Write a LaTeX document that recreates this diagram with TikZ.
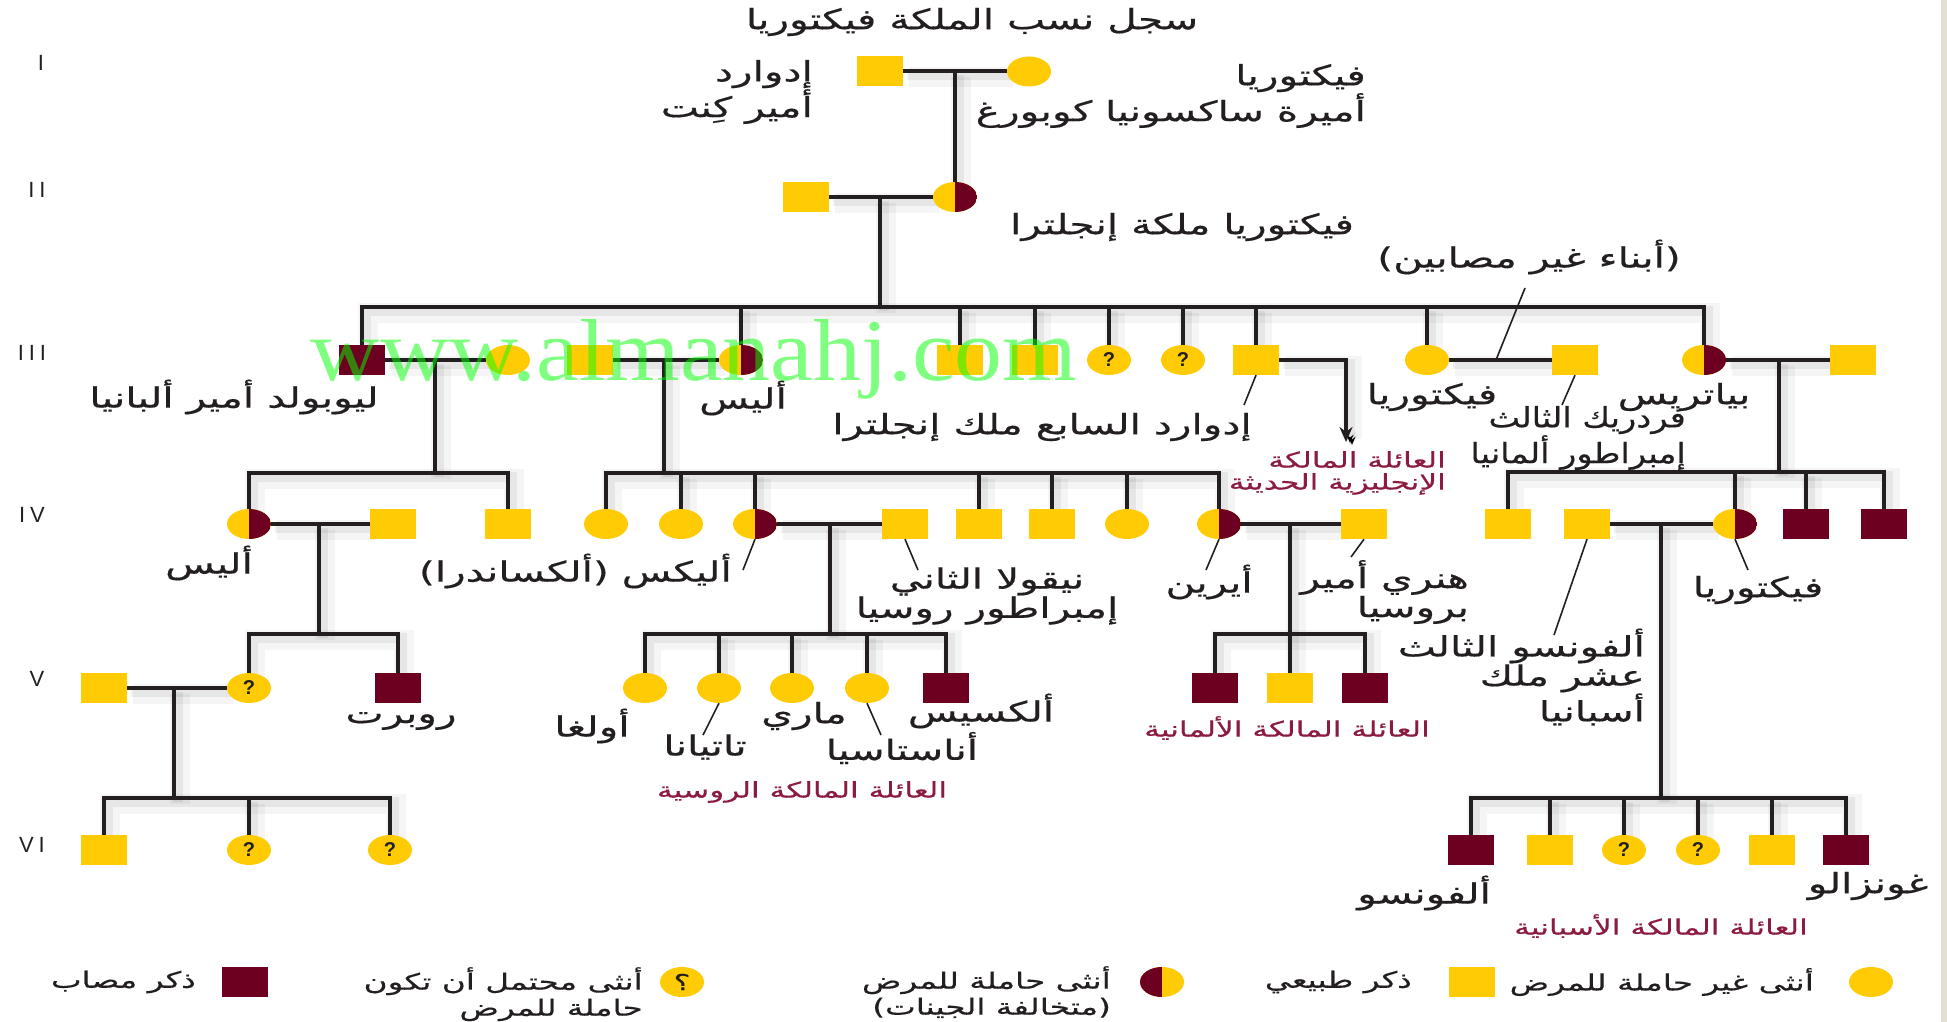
\documentclass[tikz,border=0pt]{standalone}
\usepackage{fontspec}
\usetikzlibrary{shapes.geometric,arrows.meta,backgrounds}
\TeXXeTstate=1
\newfontfamily\arfont[Script=Arabic,FakeStretch=1.45,FakeBold=0.4]{DejaVu Sans}
\newfontfamily\arnarrow[Script=Arabic,FakeStretch=1.2,FakeBold=0.4]{DejaVu Sans}
\newfontfamily\latfont{Liberation Sans}
\newfontfamily\numfont[LetterSpace=22]{Liberation Sans}
\newfontfamily\wmfont[FakeStretch=1.09]{Liberation Serif}
\newcommand\artx[1]{\beginR#1\endR}
\definecolor{pedyel}{HTML}{FFCB05}
\definecolor{pedred}{HTML}{6D0020}
\definecolor{pedgrp}{HTML}{8C1C3F}
\definecolor{pedtxt}{HTML}{231F20}
\definecolor{pedwm}{HTML}{00FF00}
\definecolor{pededge}{HTML}{E4DFD6}
\tikzset{
  msq/.style={rectangle, fill=pedyel, minimum width=46pt, minimum height=30pt, inner sep=0pt},
  asq/.style={msq, fill=pedred},
  fcir/.style={ellipse, fill=pedyel, minimum width=44pt, minimum height=30pt, inner sep=0pt},
  ccir/.style={fcir, path picture={\fill[pedred] (path picture bounding box.north) rectangle (path picture bounding box.south east);}},
  ccirl/.style={fcir, path picture={\fill[pedred] (path picture bounding box.north) rectangle (path picture bounding box.south west);}},
  qcir/.style={fcir, font=\latfont\bfseries\fontsize{20}{20}\selectfont, text=pedtxt},
  conn/.style={draw=pedtxt, line width=4pt,
    preaction={draw=black, draw opacity=0.04, line width=20pt, transform canvas={shift={(6,6)}}},
    preaction={draw=black, draw opacity=0.06, line width=10pt, transform canvas={shift={(4,4)}}}},
  lead/.style={draw=pedtxt, line width=1.6pt},
  lbl/.style={font=\arfont\fontsize{28}{28}\selectfont, text=pedtxt, inner sep=0pt},
  lgd/.style={font=\arfont\fontsize{22.5}{26}\selectfont, text=pedtxt, inner sep=0pt},
  grp/.style={font=\arfont\fontsize{21.5}{22}\selectfont, text=pedgrp, inner sep=0pt},
  gen/.style={font=\numfont\fontsize{22}{22}\selectfont, text=pedtxt, inner sep=0pt},
}
\begin{document}
\begin{tikzpicture}[x=1pt,y=-1pt]
\useasboundingbox (0,0) rectangle (1947,1022);
\begin{scope}[on background layer]
  \fill[white] (0,0) rectangle (1947,1022);
  \fill[pededge] (1941,0) rectangle (1947,1022);
\end{scope}

% generation numerals
\node[gen] (gI)   at (41,63)  {I};
\node[gen] (gII)  at (37,190) {II};
\node[gen] (gIII) at (32,353) {III};
\node[gen] (gIV)  at (32,515) {IV};
\node[gen] (gV)   at (37,679) {V};
\node[gen] (gVI)  at (32,845) {VI};

% generation I
\node[msq]  (edk) at (880,71.5) {};
\node[fcir] (vsc) at (1029,71.5) {};
% generation II
\node[msq]  (alb) at (806,197) {};
\node[ccir] (vq)  at (955,197) {};
% generation III
\node[asq]  (leo) at (362,360) {};
\node[fcir] (hel) at (508,360) {};
\node[msq]  (lou) at (590,360) {};
\node[ccir] (ali) at (741,360) {};
\node[msq]  (k3a) at (960,360) {};
\node[msq]  (k3b) at (1035,360) {};
\node[qcir] (k3c) at (1109,360) {?};
\node[qcir] (k3d) at (1183,360) {?};
\node[msq]  (ed7) at (1256,360) {};
\node[fcir] (vpr) at (1427,360) {};
\node[msq]  (fre) at (1575,360) {};
\node[ccir] (bea) at (1704,360) {};
\node[msq]  (hen) at (1853,360) {};
% generation IV
\node[ccir] (ath) at (249,524) {};
\node[msq]  (alx) at (393,524) {};
\node[msq]  (cha) at (508,524) {};
\node[fcir] (k4a) at (606,524) {};
\node[fcir] (k4b) at (681,524) {};
\node[ccir] (alix) at (755,524) {};
\node[msq]  (nic) at (905,524) {};
\node[msq]  (k4c) at (979,524) {};
\node[msq]  (k4d) at (1052,524) {};
\node[fcir] (k4e) at (1127,524) {};
\node[ccir] (ire) at (1219,524) {};
\node[msq]  (hpr) at (1364,524) {};
\node[msq]  (b1)  at (1508,524) {};
\node[msq]  (alf) at (1587,524) {};
\node[ccir] (vie) at (1735,524) {};
\node[asq]  (b3)  at (1806,524) {};
\node[asq]  (b4)  at (1884,524) {};
% generation V
\node[msq]  (v5s) at (104,688) {};
\node[qcir] (rq)  at (249,688) {?};
\node[asq]  (rup) at (398,688) {};
\node[fcir] (olg) at (645,688) {};
\node[fcir] (tat) at (719,688) {};
\node[fcir] (mar) at (792,688) {};
\node[fcir] (ana) at (867,688) {};
\node[asq]  (alxs) at (946,688) {};
\node[asq]  (g1)  at (1215,688) {};
\node[msq]  (g2)  at (1290,688) {};
\node[asq]  (g3)  at (1365,688) {};
% generation VI
\node[msq]  (g6a) at (104,850) {};
\node[qcir] (g6b) at (249,850) {?};
\node[qcir] (g6c) at (390,850) {?};
\node[asq]  (sp1) at (1471,850) {};
\node[msq]  (sp2) at (1550,850) {};
\node[qcir] (sp3) at (1624,850) {?};
\node[qcir] (sp4) at (1698,850) {?};
\node[msq]  (sp5) at (1772,850) {};
\node[asq]  (sp6) at (1846,850) {};

% junction points
\coordinate (m1) at (955,71.5);
\coordinate (m2) at (880,197);
\coordinate (s3) at (880,307);
\coordinate (m3a) at (435,360);  \coordinate (s4a) at (435,473);
\coordinate (m3b) at (664,360);  \coordinate (s4b) at (664,473);
\coordinate (m3c) at (1779,360); \coordinate (s4c) at (1779,472);
\coordinate (ed7t) at (1346,360); \coordinate (ed7a) at (1346,442);
\coordinate (m4a) at (319,524);  \coordinate (s5a) at (319,634);
\coordinate (m4b) at (830,524);  \coordinate (s5b) at (830,634);
\coordinate (m4c) at (1290,524); \coordinate (s5c) at (1290,634);
\coordinate (m4d) at (1661,524); \coordinate (s6b) at (1661,798);
\coordinate (m5) at (174,688);   \coordinate (s6a) at (174,798);

\begin{scope}[on background layer]
  % I -> II
  \draw[conn] (edk.east) -- (vsc.west);
  \draw[conn] (m1) -- (vq.north);
  % II -> III
  \draw[conn] (alb.east) -- (vq.west);
  \draw[conn] (m2) -- (s3);
  \draw[conn] (leo.north) -- (leo |- s3) -- (bea |- s3) -- (bea.north);
  \foreach \c in {ali,k3a,k3b,k3c,k3d,ed7,vpr} \draw[conn] (\c |- s3) -- (\c.north);
  % III marriages
  \draw[conn] (leo.east) -- (hel.west);
  \draw[conn] (m3a) -- (s4a);
  \draw[conn] (ath.north) -- (ath |- s4a) -- (cha |- s4a) -- (cha.north);
  \draw[conn] (lou.east) -- (ali.west);
  \draw[conn] (m3b) -- (s4b);
  \draw[conn] (k4a.north) -- (k4a |- s4b) -- (ire |- s4b) -- (ire.north);
  \foreach \c in {k4b,alix,k4c,k4d,k4e} \draw[conn] (\c |- s4b) -- (\c.north);
  \draw[conn, -{Stealth[length=15pt,width=13pt]}] (ed7.east) -- (ed7t) -- (ed7a);
  \draw[conn] (vpr.east) -- (fre.west);
  \draw[conn] (bea.east) -- (hen.west);
  \draw[conn] (m3c) -- (s4c);
  \draw[conn] (b1.north) -- (b1 |- s4c) -- (b4 |- s4c) -- (b4.north);
  \foreach \c in {vie,b3} \draw[conn] (\c |- s4c) -- (\c.north);
  % IV marriages
  \draw[conn] (ath.east) -- (alx.west);
  \draw[conn] (m4a) -- (s5a);
  \draw[conn] (rq.north) -- (rq |- s5a) -- (rup |- s5a) -- (rup.north);
  \draw[conn] (alix.east) -- (nic.west);
  \draw[conn] (m4b) -- (s5b);
  \draw[conn] (olg.north) -- (olg |- s5b) -- (alxs |- s5b) -- (alxs.north);
  \foreach \c in {tat,mar,ana} \draw[conn] (\c |- s5b) -- (\c.north);
  \draw[conn] (ire.east) -- (hpr.west);
  \draw[conn] (m4c) -- (s5c);
  \draw[conn] (g1.north) -- (g1 |- s5c) -- (g3 |- s5c) -- (g3.north);
  \draw[conn] (s5c) -- (g2.north);
  \draw[conn] (alf.east) -- (vie.west);
  \draw[conn] (m4d) -- (s6b);
  \draw[conn] (sp1.north) -- (sp1 |- s6b) -- (sp6 |- s6b) -- (sp6.north);
  \foreach \c in {sp2,sp3,sp4,sp5} \draw[conn] (\c |- s6b) -- (\c.north);
  % V marriage
  \draw[conn] (v5s.east) -- (rq.west);
  \draw[conn] (m5) -- (s6a);
  \draw[conn] (g6a.north) -- (g6a |- s6a) -- (g6c |- s6a) -- (g6c.north);
  \draw[conn] (g6b |- s6a) -- (g6b.north);
\end{scope}

% labels
\node[lbl] (t-title) at (972,22) {\artx{سجل نسب الملكة فيكتوريا}};
\node[lbl, align=right, anchor=east] (t-edk) at (813,92) {\artx{إدوارد}\\\artx{أمير كِنت}};
\node[lbl, align=right, anchor=east] (t-vsc) at (1366,96) {\artx{فيكتوريا}\\\artx{أميرة ساكسونيا كوبورغ}};
\node[lbl] (t-vq) at (1182,227) {\artx{فيكتوريا ملكة إنجلترا}};
\node[lbl] (t-unaff) at (1529,257) {)\artx{أبناء غير مصابين}(};
\node[lbl] (t-leo) at (234,397) {\artx{ليوبولد أمير ألبانيا}};
\node[lbl] (t-ali) at (743,398) {\artx{أليس}};
\node[lbl] (t-ed7) at (1042,427) {\artx{إدوارد السابع ملك إنجلترا}};
\node[lbl] (t-vpr) at (1432,397) {\artx{فيكتوريا}};
\node[lbl] (t-bea) at (1684,397) {\artx{بياتريس}};
\node[lbl, font=\arnarrow\fontsize{28}{29}\selectfont, align=right, anchor=east] (t-fre) at (1686,438) {\artx{فردريك الثالث}\\\artx{إمبراطور ألمانيا}};
\node[grp, align=right, anchor=east] (t-eng) at (1446,473) {\artx{العائلة المالكة}\\\artx{الإنجليزية الحديثة}};
\node[lbl] (t-ath) at (209,563) {\artx{أليس}};
\node[lbl, anchor=east] (t-alix) at (732,571) {)\artx{ألكساندرا}( \artx{أليكس}};
\node[lbl, align=center] (t-nic) at (987,596) {\artx{نيقولا الثاني}\\\artx{إمبراطور روسيا}};
\node[lbl] (t-ire) at (1209,582) {\artx{أيرين}};
\node[lbl, align=right, anchor=east] (t-hpr) at (1469,592) {\artx{هنري أمير}\\\artx{بروسيا}};
\node[lbl] (t-vie) at (1758,590) {\artx{فيكتوريا}};
\node[lbl, align=right, anchor=east] (t-alf) at (1645,677) {\artx{ألفونسو الثالث}\\\artx{عشر ملك}\\\artx{أسبانيا}};
\node[lbl] (t-rup) at (401,721) {\artx{روبرت}};
\node[lbl] (t-olg) at (592,726) {\artx{أولغا}};
\node[lbl] (t-tat) at (705,747) {\artx{تاتيانا}};
\node[lbl] (t-mar) at (804,716) {\artx{ماري}};
\node[lbl] (t-ana) at (902,748) {\artx{أناستاسيا}};
\node[lbl] (t-alxs) at (981,711) {\artx{ألكسيس}};
\node[grp] (t-rus) at (802,792) {\artx{العائلة المالكة الروسية}};
\node[grp] (t-ger) at (1287,728) {\artx{العائلة المالكة الألمانية}};
\node[lbl] (t-alfo) at (1424,893) {\artx{ألفونسو}};
\node[lbl] (t-gon) at (1868,886) {\artx{غونزالو}};
\node[grp] (t-spa) at (1661,926) {\artx{العائلة المالكة الأسبانية}};

% leader lines
\coordinate (L1) at (1525,288); \coordinate (L1b) at (1496,360);
\coordinate (L2) at (1244,405);
\coordinate (L3) at (1562,405);
\coordinate (L4) at (743,570);
\coordinate (L5) at (918,570);
\coordinate (L6) at (1206,570);
\coordinate (L7) at (1351,557);
\coordinate (L8) at (1554,635);
\coordinate (L9) at (1748,570);
\coordinate (L10) at (703,735);
\coordinate (L11) at (881,735);
\draw[lead] (L1) -- (L1b);
\draw[lead] (ed7.south) -- (L2);
\draw[lead] (fre.south) -- (L3);
\draw[lead] (alix.south) -- (L4);
\draw[lead] (nic.south) -- (L5);
\draw[lead] (ire.south) -- (L6);
\draw[lead] (hpr.south) -- (L7);
\draw[lead] (alf.south) -- (L8);
\draw[lead] (vie.south) -- (L9);
\draw[lead] (tat.south) -- (L10);
\draw[lead] (ana.south) -- (L11);

% legend
\node[fcir] (k-fem) at (1871,982) {};
\node[lgd, anchor=east] (k-femt) at (1814,982) {\artx{أنثى غير حاملة للمرض}};
\node[msq] (k-male) at (1472,982) {};
\node[lgd, anchor=east] (k-malet) at (1412,982) {\artx{ذكر طبيعي}};
\node[ccirl] (k-car) at (1162,982) {};
\node[lgd, align=right, anchor=north east] (k-cart) at (1111,966) {\artx{أنثى حاملة للمرض}\\)\artx{متخالفة الجينات}(};
\node[fcir, font=\arfont\fontsize{22}{22}\selectfont, text=pedtxt] (k-pos) at (682,982) {؟};
\node[lgd, align=right, anchor=north east] (k-post) at (643,967) {\artx{أنثى محتمل أن تكون}\\\artx{حاملة للمرض}};
\node[asq] (k-aff) at (245,982) {};
\node[lgd, anchor=east] (k-afft) at (196,982) {\artx{ذكر مصاب}};

% site mark
\node[font=\wmfont\fontsize{88}{88}\selectfont, text=pedwm, text opacity=0.5, anchor=base, inner sep=0pt] (wm) at (694,380) {www.almanahj.com};
\end{tikzpicture}
\end{document}
